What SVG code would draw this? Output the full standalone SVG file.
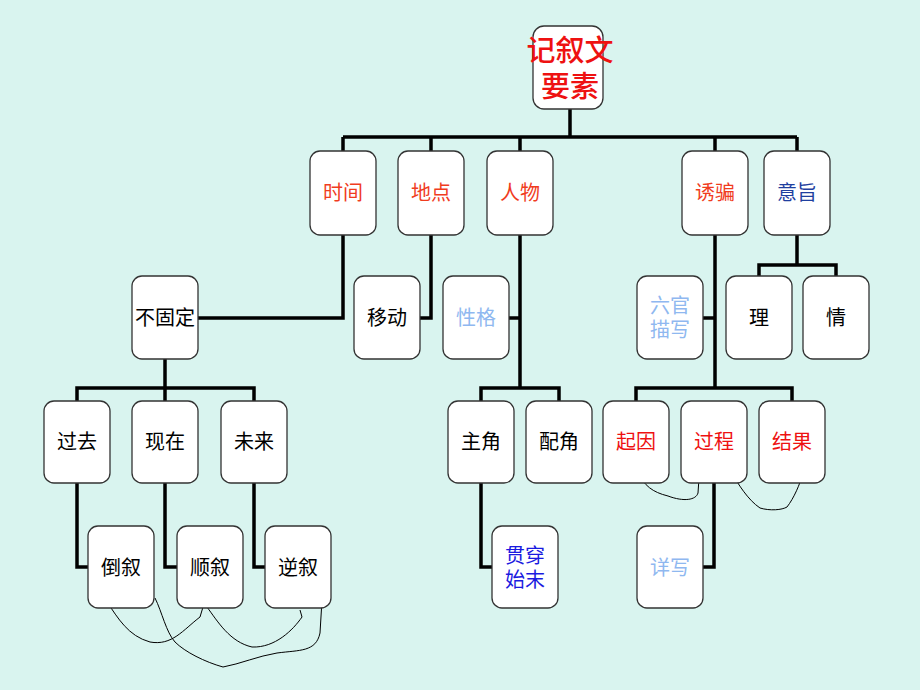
<svg xmlns="http://www.w3.org/2000/svg" width="920" height="690" viewBox="0 0 920 690">
<style>
.bx{fill:#fff;stroke:#333;stroke-width:1.3}
.t{font-family:"Liberation Sans","Noto Sans CJK SC",sans-serif;font-size:20px;text-anchor:middle;dominant-baseline:central}
.rt{font-size:29px;font-weight:500}
.k{fill:#000}
.o{fill:#f03c1e}
.r{fill:#ee1111}
.lb{fill:#8fb8f0}
.db{fill:#1f3f9f}
.b{fill:#1a1ae0}
.ln{fill:none;stroke:#000;stroke-width:3.5}
.cv{fill:none;stroke:#000;stroke-width:1}
</style>
<rect width="920" height="690" fill="#d9f4ef"/>
<g id="connectors">
<path class="ln" d="M570,109V137M343,137H797M343,137V151M431,137V151M520,137V151M715,137V151M797,137V151"/>
<path class="ln" d="M343,235V318H198"/>
<path class="ln" d="M431,235V318H420"/>
<path class="ln" d="M520,235V388M520,318H509M481,401V388H559V401"/>
<path class="ln" d="M715,235V388M715,318H703M636,401V388H792V401M714,483V567H703"/>
<path class="ln" d="M797,235V265M759,276V265H836V276"/>
<path class="ln" d="M165,358V401M77,401V388H254V401"/>
<path class="ln" d="M77,483V567H88M165,483V567H177M254,483V567H265M481,483V567H492"/>
<path class="cv" d="M107,602C118,618 128,636 150,642C172,646 183,630 200,617L203,607"/>
<path class="cv" d="M155,598C162,612 166,632 175,642C185,652 205,662 223,667C240,664 258,656 277,653C300,650 316,652 320,633L322,600"/>
<path class="cv" d="M207,607C218,622 230,642 252,647C275,648 293,630 302,617L300,610"/>
<path class="cv" d="M637,472C645,486 652,492 668,496C684,502 696,500 698,493L699,478"/>
<path class="cv" d="M730,470C738,484 748,500 760,508C770,511 782,510 787,507C794,498 800,484 803,473"/>
</g>
<g id="root"><rect class="bx" x="533" y="26" width="70" height="83" rx="11"/><text class="t r rt" x="570" y="51">记叙文</text><text class="t r rt" x="570" y="87">要素</text></g>
<g id="n-shijian"><rect class="bx" x="310" y="151" width="66" height="84" rx="10"/><text class="t o" x="343" y="193">时间</text></g>
<g id="n-didian"><rect class="bx" x="398" y="151" width="66" height="84" rx="10"/><text class="t o" x="431" y="193">地点</text></g>
<g id="n-renwu"><rect class="bx" x="487" y="151" width="66" height="84" rx="10"/><text class="t o" x="520" y="193">人物</text></g>
<g id="n-youpian"><rect class="bx" x="682" y="151" width="66" height="84" rx="10"/><text class="t o" x="715" y="193">诱骗</text></g>
<g id="n-yizhi"><rect class="bx" x="764" y="151" width="66" height="84" rx="10"/><text class="t db" x="797" y="193">意旨</text></g>
<g id="n-bugudingg"><rect class="bx" x="132" y="276" width="66" height="83" rx="10"/><text class="t k" x="165" y="318">不固定</text></g>
<g id="n-yidong"><rect class="bx" x="354" y="276" width="66" height="83" rx="10"/><text class="t k" x="387" y="318">移动</text></g>
<g id="n-xingge"><rect class="bx" x="443" y="276" width="66" height="83" rx="10"/><text class="t lb" x="476" y="318">性格</text></g>
<g id="n-liuguan"><rect class="bx" x="637" y="276" width="66" height="83" rx="10"/><text class="t lb" x="670" y="306">六官</text><text class="t lb" x="670" y="330">描写</text></g>
<g id="n-li"><rect class="bx" x="726" y="276" width="66" height="83" rx="10"/><text class="t k" x="759" y="318">理</text></g>
<g id="n-qing"><rect class="bx" x="803" y="276" width="66" height="83" rx="10"/><text class="t k" x="836" y="318">情</text></g>
<g id="n-guoqu"><rect class="bx" x="44" y="401" width="66" height="82" rx="10"/><text class="t k" x="77" y="442">过去</text></g>
<g id="n-xianzai"><rect class="bx" x="132" y="401" width="66" height="82" rx="10"/><text class="t k" x="165" y="442">现在</text></g>
<g id="n-weilai"><rect class="bx" x="221" y="401" width="66" height="82" rx="10"/><text class="t k" x="254" y="442">未来</text></g>
<g id="n-zhujiao"><rect class="bx" x="448" y="401" width="66" height="82" rx="10"/><text class="t k" x="481" y="442">主角</text></g>
<g id="n-peijiao"><rect class="bx" x="526" y="401" width="66" height="82" rx="10"/><text class="t k" x="559" y="442">配角</text></g>
<g id="n-qiyin"><rect class="bx" x="603" y="401" width="66" height="82" rx="10"/><text class="t r" x="636" y="442">起因</text></g>
<g id="n-guocheng"><rect class="bx" x="681" y="401" width="66" height="82" rx="10"/><text class="t r" x="714" y="442">过程</text></g>
<g id="n-jieguo"><rect class="bx" x="759" y="401" width="66" height="82" rx="10"/><text class="t r" x="792" y="442">结果</text></g>
<g id="n-daoxu"><rect class="bx" x="88" y="526" width="66" height="82" rx="10"/><text class="t k" x="121" y="568">倒叙</text></g>
<g id="n-shunxu"><rect class="bx" x="177" y="526" width="66" height="82" rx="10"/><text class="t k" x="210" y="568">顺叙</text></g>
<g id="n-nixu"><rect class="bx" x="265" y="526" width="66" height="82" rx="10"/><text class="t k" x="298" y="568">逆叙</text></g>
<g id="n-guanchuan"><rect class="bx" x="492" y="526" width="66" height="82" rx="10"/><text class="t b" x="525" y="556">贯穿</text><text class="t b" x="525" y="580">始末</text></g>
<g id="n-xiangxie"><rect class="bx" x="637" y="526" width="66" height="82" rx="10"/><text class="t lb" x="670" y="568">详写</text></g>
</svg>
